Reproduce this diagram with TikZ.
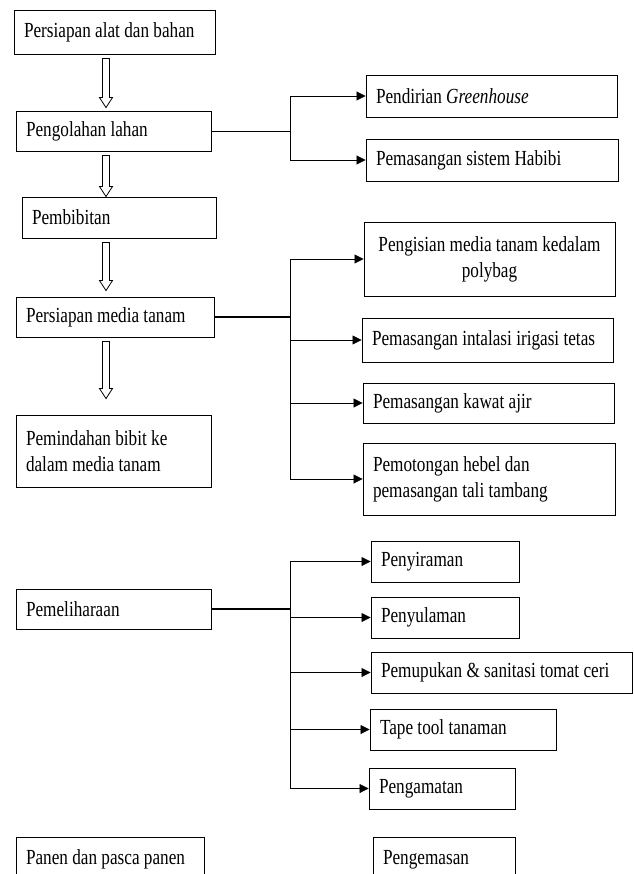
\documentclass[tikz,border=0pt]{standalone}
\usepackage{fontspec}
\setmainfont{Liberation Serif}[FakeStretch=0.8]
\usetikzlibrary{arrows.meta, calc}

\begin{document}
\begin{tikzpicture}[x=1pt, y=-1pt,
        box/.style={draw, line width=.9pt, inner xsep=10pt, inner ysep=2pt, align=flush left,
            font=\fontsize{21.5}{26}\selectfont, execute at begin node={\spaceskip=0pt\xspaceskip=0pt}},
        tip/.style={line width=.8pt, -{Triangle[length=9pt, width=9pt]}},
        hollow/.style={line width=.8pt, to path={let \p1=(\tikztostart), \p2=(\tikztotarget) in
            (\x1-3.5pt,\y1-4pt) -- (\x1-3.5pt,\y2+#1+10pt) -- (\x1-6.5pt,\y2+#1+10pt)
            -- (\x1,\y2+#1) -- (\x1+6.5pt,\y2+#1+10pt) -- (\x1+3.5pt,\y2+#1+10pt)
            -- (\x1+3.5pt,\y1-4pt) -- cycle}},
        hollow/.default=3pt]
        \useasboundingbox (0,0) rectangle (633,874);
        % main steps
        \node[box, text width=181pt, minimum height=44pt] (alat) at (114.5,32) {Persiapan alat dan bahan};
        \node[box, text width=175pt, minimum height=40pt] (olah) at (113.5,131) {Pengolahan lahan};
        \node[box, text width=174pt, minimum height=41pt] (bibit) at (119,217.5) {Pembibitan};
        \node[box, text width=178pt, minimum height=40pt] (media) at (115,317) {Persiapan media tanam};
        \node[box, text width=175pt, minimum height=72pt] (pindah) at (113.5,451) {Pemindahan bibit ke\\dalam media tanam};
        \node[box, text width=175pt, minimum height=40pt] (pelihara) at (113.5,609) {Pemeliharaan};
        \node[box, text width=168pt, minimum height=45pt] (panen) at (110,859.5) {Panen dan pasca panen};
        % sub steps
        \node[box, text width=231pt, minimum height=42pt] (g1) at (491.5,96) {Pendirian \textit{Greenhouse}};
        \node[box, text width=232pt, minimum height=42pt] (g2) at (492,160) {Pemasangan sistem Habibi};
        \node[box, text width=231pt, minimum height=74pt, align=flush center] (m1) at (489.5,259) {Pengisian media tanam kedalam\\polybag};
        \node[box, text width=231pt, minimum height=44pt] (m2) at (487.5,340) {Pemasangan intalasi irigasi tetas};
        \node[box, text width=231pt, minimum height=40pt] (m3) at (488.5,403) {Pemasangan kawat ajir};
        \node[box, text width=232pt, minimum height=72pt] (m4) at (489,479) {Pemotongan hebel dan\\pemasangan tali tambang};
        \node[box, text width=128pt, minimum height=41pt] (p1) at (445,561.5) {Penyiraman};
        \node[box, text width=128pt, minimum height=41pt] (p2) at (445,617.5) {Penyulaman};
        \node[box, text width=241pt, minimum height=41pt] (p3) at (501.5,672.5) {Pemupukan \& sanitasi tomat ceri};
        \node[box, text width=166pt, minimum height=41pt] (p4) at (463,729.5) {Tape tool tanaman};
        \node[box, text width=126pt, minimum height=41pt] (p5) at (442,788.5) {Pengamatan};
        \node[box, text width=122pt, minimum height=45pt] (kemas) at (444,859.5) {Pengemasan};
        % hollow arrows
        \coordinate (ax) at (106,0);
        \draw[hollow] (alat.south -| ax) to (olah.north -| ax);
        \draw[hollow=0pt] (olah.south -| ax) to (bibit.north -| ax);
        \draw[hollow=6pt] (bibit.south -| ax) to (media.north -| ax);
        \draw[hollow=16pt] (media.south -| ax) to (pindah.north -| ax);
        % branches
        \coordinate (tr) at (290,0);
        \draw[line width=.8pt] (olah.east) -- (olah.east -| tr);
        \foreach \n in {g1,g2}
        \draw[tip] (olah.east -| tr) |- (\n.west);
        \draw[line width=1.6pt] (media.east) -- (media.east -| tr);
        \foreach \n in {m1,m2,m3,m4}
        \draw[tip] (media.east -| tr) |- (\n.west);
        \draw[line width=1.6pt] (pelihara.east) -- (pelihara.east -| tr);
        \foreach \n in {p1,p2,p3,p4,p5}
        \draw[tip] (pelihara.east -| tr) |- (\n.west);
\end{tikzpicture}
\end{document}
